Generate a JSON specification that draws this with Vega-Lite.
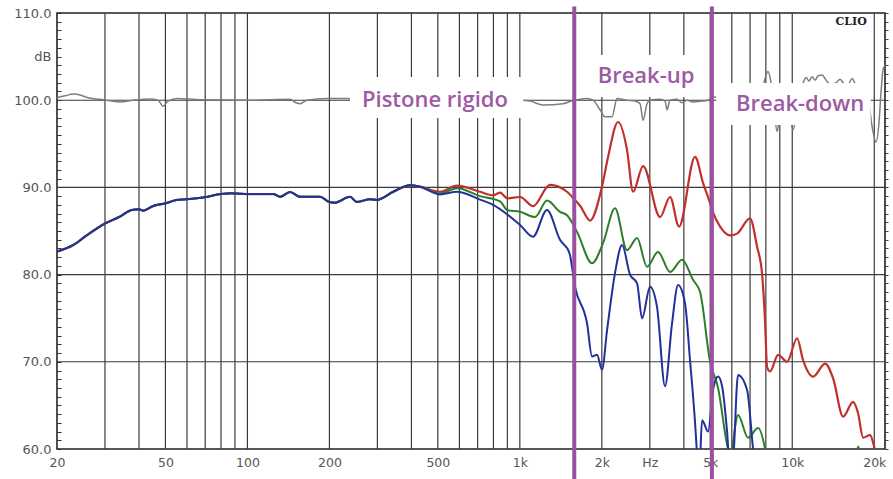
{
  "$schema": "https://vega.github.io/schema/vega-lite/v6.json",
  "width": 828,
  "height": 436,
  "autosize": "none",
  "padding": {"left": 57, "top": 13, "right": 8, "bottom": 30},
  "background": "white",
  "config": {"view": {"stroke": "#222", "strokeWidth": 1.6}},
  "resolve": {"axis": {"y": "independent"}},
  "datasets": {
    "vgrid": [{"f":30},{"f":40},{"f":50},{"f":60},{"f":70},{"f":80},{"f":90},{"f":100},{"f":200},{"f":300},{"f":400},{"f":500},{"f":600},{"f":700},{"f":800},{"f":900},{"f":1000},{"f":2000},{"f":3000},{"f":4000},{"f":5000},{"f":6000},{"f":7000},{"f":8000},{"f":9000},{"f":10000},{"f":20000}],
    "hgrid": [{"db":70},{"db":80},{"db":90},{"db":100}],
    "bounds": [{"f":1584},{"f":5070}],
    "boxes": [{"f":238,"f2":1030,"lo":97.96,"hi":102.66},{"f":1640,"f2":4880,"lo":100.37,"hi":105.18},{"f":5260,"f2":19400,"lo":97.16,"hi":101.97}],
    "gray": [{"f":20,"db":100.3},{"f":21.4,"db":100.5},{"f":22.9,"db":100.7},{"f":24.3,"db":100.6},{"f":25.8,"db":100.3},{"f":28.8,"db":100.1},{"f":31.3,"db":99.95},{"f":34.1,"db":99.8},{"f":38,"db":100},{"f":43.9,"db":100.15},{"f":47,"db":100},{"f":49,"db":99.3},{"f":51.1,"db":99.9},{"f":55.2,"db":100.2},{"f":67,"db":100.05},{"f":102.2,"db":100},{"f":143.4,"db":100.1},{"f":150.8,"db":99.7},{"f":156,"db":99.6},{"f":165.5,"db":100},{"f":196,"db":100.2},{"f":232,"db":100.2},{"f":259,"db":100},{"f":1001,"db":100},{"f":1090,"db":99.9},{"f":1217,"db":99.45},{"f":1441,"db":99.6},{"f":1568,"db":99.95},{"f":1664,"db":100.1},{"f":1765,"db":100.2},{"f":1857,"db":100},{"f":1970,"db":98.9},{"f":2054,"db":98.1},{"f":2180,"db":98.1},{"f":2274,"db":100.2},{"f":2476,"db":100},{"f":2648,"db":99.9},{"f":2762,"db":99.6},{"f":2834,"db":97.7},{"f":2930,"db":99.6},{"f":3006,"db":100},{"f":3272,"db":100.1},{"f":3412,"db":99.9},{"f":3470,"db":98.9},{"f":3560,"db":100},{"f":3776,"db":100.1},{"f":3940,"db":99.7},{"f":4110,"db":100},{"f":4322,"db":99.8},{"f":4666,"db":99.9},{"f":4910,"db":100},{"f":5122,"db":100.4},{"f":5434,"db":100.2},{"f":6434,"db":100},{"f":7618,"db":100.5},{"f":7944,"db":102.5},{"f":8148,"db":103.3},{"f":8358,"db":102},{"f":8574,"db":99},{"f":8794,"db":96.4},{"f":9020,"db":98.5},{"f":9650,"db":99},{"f":10066,"db":96.6},{"f":10418,"db":99},{"f":10960,"db":102},{"f":11240,"db":102.6},{"f":11530,"db":102.2},{"f":11826,"db":102.7},{"f":12130,"db":102.3},{"f":12442,"db":102.8},{"f":12870,"db":102.9},{"f":13312,"db":102.3},{"f":13770,"db":101.8},{"f":14486,"db":102},{"f":14984,"db":102.4},{"f":15498,"db":101.9},{"f":16030,"db":101.8},{"f":16582,"db":102.5},{"f":17008,"db":101.9},{"f":18044,"db":100.5},{"f":18978,"db":100},{"f":19632,"db":97},{"f":20306,"db":95.2},{"f":20828,"db":97.5},{"f":21184,"db":101},{"f":21546,"db":103.5},{"f":21900,"db":104}],
    "resp": [
      {"s":"c","f":20,"db":82.63},{"s":"c","f":22.96,"db":83.4},{"s":"c","f":25.7,"db":84.5},{"s":"c","f":30.1,"db":85.88},{"s":"c","f":34,"db":86.64},{"s":"c","f":37.6,"db":87.41},{"s":"c","f":40,"db":87.49},{"s":"c","f":41.4,"db":87.33},{"s":"c","f":45.1,"db":87.87},{"s":"c","f":50.2,"db":88.18},{"s":"c","f":55,"db":88.56},{"s":"c","f":59.9,"db":88.64},{"s":"c","f":69.7,"db":88.87},{"s":"c","f":80,"db":89.24},{"s":"c","f":87.6,"db":89.32},{"s":"c","f":99.4,"db":89.24},{"s":"c","f":124.5,"db":89.24},{"s":"c","f":131.8,"db":88.93},{"s":"c","f":143.4,"db":89.47},{"s":"c","f":156,"db":88.93},{"s":"c","f":184.8,"db":88.93},{"s":"c","f":198.8,"db":88.36},{"s":"c","f":209.7,"db":88.25},{"s":"c","f":238,"db":88.93},{"s":"c","f":252,"db":88.33},{"s":"c","f":282,"db":88.64},{"s":"c","f":298,"db":88.56},{"s":"c","f":343,"db":89.5},{"s":"c","f":395,"db":90.24},{"s":"c","f":430,"db":90.08},
      {"s":"r","f":509,"db":89.5},{"s":"r","f":588,"db":90.2},{"s":"r","f":714,"db":89.5},{"s":"r","f":798,"db":89.1},{"s":"r","f":846,"db":89.4},{"s":"r","f":900,"db":88.75},{"s":"r","f":1002,"db":88.9},{"s":"r","f":1118,"db":87.85},{"s":"r","f":1290,"db":90.3},{"s":"r","f":1490,"db":89.5},{"s":"r","f":1594,"db":88.55},{"s":"r","f":1664,"db":87.9},{"s":"r","f":1810,"db":86.2},{"s":"r","f":2003,"db":90.1},{"s":"r","f":2108,"db":93.5},{"s":"r","f":2294,"db":97.5},{"s":"r","f":2474,"db":94.3},{"s":"r","f":2604,"db":89.5},{"s":"r","f":2834,"db":92.45},{"s":"r","f":3272,"db":86.6},{"s":"r","f":3560,"db":88.9},{"s":"r","f":3840,"db":85.5},{"s":"r","f":4398,"db":93.5},{"s":"r","f":4706,"db":90.5},{"s":"r","f":4994,"db":88.2},{"s":"r","f":5122,"db":87.1},{"s":"r","f":5434,"db":85.5},{"s":"r","f":5912,"db":84.5},{"s":"r","f":6270,"db":84.7},{"s":"r","f":6998,"db":86.45},{"s":"r","f":7428,"db":83.2},{"s":"r","f":7748,"db":80.1},{"s":"r","f":7944,"db":74.7},{"s":"r","f":8082,"db":69.4},{"s":"r","f":8290,"db":68.9},{"s":"r","f":8872,"db":70.8},{"s":"r","f":9574,"db":70},{"s":"r","f":10418,"db":72.7},{"s":"r","f":10958,"db":70.2},{"s":"r","f":11924,"db":68.3},{"s":"r","f":13196,"db":69.8},{"s":"r","f":14126,"db":68.1},{"s":"r","f":15372,"db":63.7},{"s":"r","f":16720,"db":65.4},{"s":"r","f":17442,"db":64.1},{"s":"r","f":18200,"db":61.3},{"s":"r","f":19304,"db":61.6},{"s":"r","f":20134,"db":59.9},{"s":"r","f":21000,"db":58},
      {"s":"g","f":509,"db":89.3},{"s":"g","f":588,"db":89.9},{"s":"g","f":714,"db":89},{"s":"g","f":846,"db":88.4},{"s":"g","f":900,"db":87.4},{"s":"g","f":1002,"db":87.2},{"s":"g","f":1137,"db":86.6},{"s":"g","f":1258,"db":88.5},{"s":"g","f":1404,"db":87.2},{"s":"g","f":1490,"db":86.8},{"s":"g","f":1622,"db":84.9},{"s":"g","f":1841,"db":81.3},{"s":"g","f":2020,"db":83.6},{"s":"g","f":2236,"db":87.6},{"s":"g","f":2474,"db":82.8},{"s":"g","f":2694,"db":84.2},{"s":"g","f":2930,"db":80.9},{"s":"g","f":3216,"db":82.6},{"s":"g","f":3560,"db":80.3},{"s":"g","f":3940,"db":81.7},{"s":"g","f":4322,"db":79.4},{"s":"g","f":4588,"db":78},{"s":"g","f":4994,"db":70},{"s":"g","f":5342,"db":67},{"s":"g","f":5812,"db":60},{"s":"g","f":5912,"db":59.3},{"s":"g","f":6324,"db":63.9},{"s":"g","f":6882,"db":61.3},{"s":"g","f":7490,"db":62.4},{"s":"g","f":7946,"db":60},{"s":"g","f":8300,"db":56},{"s":"g","f":16500,"db":56},{"s":"g","f":17442,"db":60.3},{"s":"g","f":18300,"db":56},
      {"s":"b","f":509,"db":89.2},{"s":"b","f":588,"db":89.5},{"s":"b","f":714,"db":88.6},{"s":"b","f":798,"db":88},{"s":"b","f":900,"db":86.9},{"s":"b","f":1002,"db":85.7},{"s":"b","f":1118,"db":84.35},{"s":"b","f":1258,"db":87.4},{"s":"b","f":1404,"db":84},{"s":"b","f":1520,"db":82.5},{"s":"b","f":1594,"db":78.6},{"s":"b","f":1765,"db":74.4},{"s":"b","f":1841,"db":70.6},{"s":"b","f":1920,"db":70.8},{"s":"b","f":2003,"db":69.1},{"s":"b","f":2090,"db":73.6},{"s":"b","f":2236,"db":80.2},{"s":"b","f":2373,"db":83.4},{"s":"b","f":2538,"db":80},{"s":"b","f":2694,"db":79},{"s":"b","f":2810,"db":75},{"s":"b","f":3006,"db":78.6},{"s":"b","f":3188,"db":76.3},{"s":"b","f":3412,"db":67.2},{"s":"b","f":3620,"db":74.4},{"s":"b","f":3808,"db":78.8},{"s":"b","f":4040,"db":76.7},{"s":"b","f":4214,"db":70.2},{"s":"b","f":4398,"db":63},{"s":"b","f":4472,"db":59.5},{"s":"b","f":4560,"db":57.5},{"s":"b","f":4666,"db":63.3},{"s":"b","f":4910,"db":62},{"s":"b","f":5122,"db":66.8},{"s":"b","f":5342,"db":68.3},{"s":"b","f":5526,"db":67.2},{"s":"b","f":5764,"db":62},{"s":"b","f":5900,"db":58},{"s":"b","f":6050,"db":58.5},{"s":"b","f":6324,"db":68.5},{"s":"b","f":6824,"db":66.8},{"s":"b","f":7178,"db":60},{"s":"b","f":7400,"db":56}
    ]
  },
  "layer": [
    {
      "data": {"name": "vgrid"},
      "mark": {"type": "rule", "color": "#3a3a3a", "strokeWidth": 1.2},
      "encoding": {
        "x": {"field": "f", "type": "quantitative", "scale": {"type": "log", "domain": [20, 21900], "nice": false},
          "axis": {"values": [20, 50, 100, 200, 500, 1000, 2000, 3000, 5000, 10000, 20000],
            "labelExpr": "datum.value == 3000 ? 'Hz' : (datum.value >= 1000 ? format(datum.value / 1000, 'd') + 'k' : format(datum.value, 'd'))",
            "ticks": false, "domain": false, "grid": false, "title": null,
            "labelFont": "DejaVu Sans", "labelFontSize": 12.5, "labelColor": "#555", "labelPadding": 7, "labelFlush": false, "labelOverlap": false}}
      }
    },
    {
      "data": {"name": "hgrid"},
      "mark": {"type": "rule", "color": "#3a3a3a", "strokeWidth": 1.1},
      "encoding": {
        "y": {"field": "db", "type": "quantitative", "scale": {"domain": [60, 110], "nice": false, "zero": false},
          "axis": {"orient": "left", "values": [60,61,62,63,64,65,66,67,68,69,70,71,72,73,74,75,76,77,78,79,80,81,82,83,84,85,86,87,88,89,90,91,92,93,94,95,96,97,98,99,100,101,102,103,104,105,106,107,108,109,110],
            "labelExpr": "datum.value == 105 ? 'dB' : (datum.value % 10 == 0 ? format(datum.value, '.1f') : '')",
            "tickSize": -4, "tickColor": "#333", "domain": false, "grid": false, "title": null,
            "labelFont": "DejaVu Sans", "labelFontSize": 13, "labelColor": "#555", "labelPadding": 10, "labelOverlap": false, "labelFlush": false}}
      }
    },
    {
      "data": {"name": "gray"},
      "mark": {"type": "line", "color": "#7d7d7d", "strokeWidth": 1.5, "interpolate": "monotone"},
      "encoding": {
        "x": {"field": "f", "type": "quantitative", "scale": {"type": "log", "domain": [20, 21900], "nice": false}, "title": null},
        "y": {"field": "db", "type": "quantitative", "scale": {"domain": [60, 110], "nice": false, "zero": false},
          "axis": {"orient": "right", "values": [60,61,62,63,64,65,66,67,68,69,70,71,72,73,74,75,76,77,78,79,80,81,82,83,84,85,86,87,88,89,90,91,92,93,94,95,96,97,98,99,100,101,102,103,104,105,106,107,108,109,110],
            "labels": false, "tickSize": 3, "tickColor": "#444", "domain": false, "grid": false, "title": null}}
      }
    },
    {
      "data": {"name": "boxes"},
      "mark": {"type": "rect", "fill": "white"},
      "encoding": {
        "x": {"field": "f", "type": "quantitative", "scale": {"type": "log", "domain": [20, 21900], "nice": false}, "title": null},
        "x2": {"field": "f2"},
        "y": {"field": "hi", "type": "quantitative", "scale": {"domain": [60, 110], "nice": false, "zero": false}, "axis": null},
        "y2": {"field": "lo"}
      }
    },
    {
      "data": {"name": "resp"},
      "transform": [{"filter": "datum.s == 'c' || datum.s == 'r'"}],
      "mark": {"type": "line", "color": "#c0302c", "strokeWidth": 2.2, "interpolate": "monotone", "clip": true},
      "encoding": {
        "x": {"field": "f", "type": "quantitative", "scale": {"type": "log", "domain": [20, 21900], "nice": false}, "title": null},
        "y": {"field": "db", "type": "quantitative", "scale": {"domain": [60, 110], "nice": false, "zero": false}, "axis": null}
      }
    },
    {
      "data": {"name": "resp"},
      "transform": [{"filter": "datum.s == 'c' || datum.s == 'g'"}],
      "mark": {"type": "line", "color": "#2b7f2b", "strokeWidth": 2, "interpolate": "monotone", "clip": true},
      "encoding": {
        "x": {"field": "f", "type": "quantitative", "scale": {"type": "log", "domain": [20, 21900], "nice": false}, "title": null},
        "y": {"field": "db", "type": "quantitative", "scale": {"domain": [60, 110], "nice": false, "zero": false}, "axis": null}
      }
    },
    {
      "data": {"name": "resp"},
      "transform": [{"filter": "datum.s == 'c' || datum.s == 'b'"}],
      "mark": {"type": "line", "color": "#22309c", "strokeWidth": 2, "interpolate": "monotone", "clip": true},
      "encoding": {
        "x": {"field": "f", "type": "quantitative", "scale": {"type": "log", "domain": [20, 21900], "nice": false}, "title": null},
        "y": {"field": "db", "type": "quantitative", "scale": {"domain": [60, 110], "nice": false, "zero": false}, "axis": null}
      }
    },
    {
      "data": {"name": "bounds"},
      "mark": {"type": "rule", "color": "#9b4fa3", "strokeWidth": 4, "clip": false},
      "encoding": {
        "x": {"field": "f", "type": "quantitative", "scale": {"type": "log", "domain": [20, 21900], "nice": false}, "title": null},
        "y": {"datum": 110.75, "type": "quantitative", "scale": {"domain": [60, 110], "nice": false, "zero": false}, "axis": null},
        "y2": {"datum": 56.4}
      }
    },
    {
      "data": {"values": [{}]},
      "mark": {"type": "text", "text": "Pistone rigido", "font": "Open Sans", "fontSize": 22, "fontWeight": 600, "color": "#9c5aa3", "align": "center", "baseline": "alphabetic"},
      "encoding": {
        "x": {"datum": 488, "type": "quantitative", "scale": {"type": "log", "domain": [20, 21900], "nice": false}, "title": null},
        "y": {"datum": 99.19, "type": "quantitative", "scale": {"domain": [60, 110], "nice": false, "zero": false}, "axis": null}
      }
    },
    {
      "data": {"values": [{}]},
      "mark": {"type": "text", "text": "Break-up", "font": "Open Sans", "fontSize": 22, "fontWeight": 600, "color": "#9c5aa3", "align": "center", "baseline": "alphabetic"},
      "encoding": {
        "x": {"datum": 2906, "type": "quantitative", "scale": {"type": "log", "domain": [20, 21900], "nice": false}, "title": null},
        "y": {"datum": 101.94, "type": "quantitative", "scale": {"domain": [60, 110], "nice": false, "zero": false}, "axis": null}
      }
    },
    {
      "data": {"values": [{}]},
      "mark": {"type": "text", "text": "Break-down", "font": "Open Sans", "fontSize": 22, "fontWeight": 600, "color": "#9c5aa3", "align": "center", "baseline": "alphabetic"},
      "encoding": {
        "x": {"datum": 10682, "type": "quantitative", "scale": {"type": "log", "domain": [20, 21900], "nice": false}, "title": null},
        "y": {"datum": 98.76, "type": "quantitative", "scale": {"domain": [60, 110], "nice": false, "zero": false}, "axis": null}
      }
    },
    {
      "data": {"values": [{}]},
      "mark": {"type": "text", "text": "CLIO", "font": "DejaVu Serif", "fontSize": 11, "fontWeight": "bold", "color": "#222", "align": "center", "baseline": "alphabetic"},
      "encoding": {
        "x": {"datum": 16446, "type": "quantitative", "scale": {"type": "log", "domain": [20, 21900], "nice": false}, "title": null},
        "y": {"datum": 108.6, "type": "quantitative", "scale": {"domain": [60, 110], "nice": false, "zero": false}, "axis": null}
      }
    }
  ]
}
